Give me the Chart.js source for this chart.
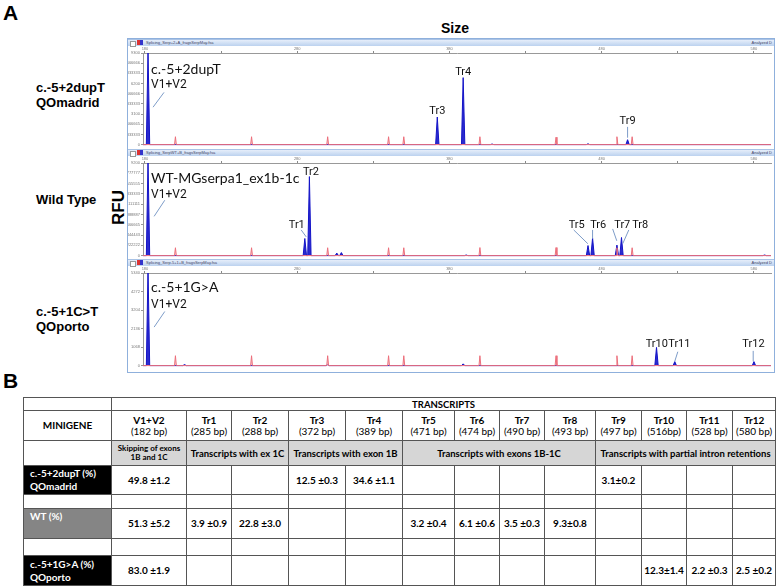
<!DOCTYPE html>
<html>
<head>
<meta charset="utf-8">
<script src="https://cdn.jsdelivr.net/npm/chart.js@4.4.1/dist/chart.umd.min.js"></script>
<style>
  body { margin: 0; width: 778px; height: 587px; background: #fff; position: relative; overflow: hidden; font-family: "Liberation Sans", Arial, sans-serif; }
  .abs { position: absolute; }
  .big { font-weight: bold; font-size: 21px; line-height: 21px; }
  .lab { font-weight: bold; font-size: 13px; line-height: 15px; white-space: nowrap; }
  #frame { left: 127px; top: 38px; width: 646px; height: 333px; border: 1px solid #8fb0dc; }
  .bar { left: 128px; width: 646px; height: 6px; background: linear-gradient(#e6eefa, #bcd2ef); border-top: 1px solid #a9c3e6; font-size: 4px; line-height: 6px; color: #446; }
  .bar .nm { position: absolute; left: 18px; top: 0; }
  .bar .an { position: absolute; right: 2px; top: 0; }
  .bar .ck { position: absolute; left: 2px; top: 1px; width: 4px; height: 4px; border: 1px solid #999; background: #fff; }
  .bar .ic { position: absolute; left: 9px; top: 0; width: 6px; height: 5px; background: linear-gradient(90deg, #d33 50%, #33c 50%); }
  canvas { position: absolute; left: 128px; }
  #tbl { position: absolute; left: 23px; top: 397px; border-collapse: collapse; table-layout: fixed; width: 752px; font-family: Lato, sans-serif; }
  #tbl td { border: 1px solid #555; padding: 0; text-align: center; vertical-align: middle; font-size: 10px; line-height: 11px; overflow: hidden; white-space: nowrap; }
  #tbl td.grp { background: #d6d6d6; font-weight: bold; }
  #tbl td.blk { background: #000; color: #fff; font-weight: bold; text-align: left; padding-left: 6px; line-height: 13px; }
  #tbl td.wt { background: #858585; color: #fff; font-weight: bold; text-align: left; vertical-align: top; padding-left: 6px; padding-top: 2px; }
  #tbl td.val { font-weight: bold; }
</style>
</head>
<body>
<div class="abs big" style="left:3px;top:2px;">A</div>
<div class="abs" style="left:441px;top:21px;font-weight:bold;font-size:14px;line-height:14px;">Size</div>
<div class="abs lab" style="left:36px;top:80px;">c.-5+2dupT<br>QOmadrid</div>
<div class="abs lab" style="left:36px;top:192px;">Wild Type</div>
<div class="abs lab" style="left:36px;top:304px;">c.-5+1C&gt;T<br>QOporto</div>
<div class="abs" style="left:99px;top:199px;width:38px;text-align:center;font-weight:bold;font-size:17px;line-height:17px;transform:rotate(-90deg);">RFU</div>

<div id="frame" class="abs"></div>
<div class="abs bar" style="top:39px;"><span class="ck"></span><span class="ic"></span><span class="nm">Splicing_Serp+2+A_fragsSerpMay.fsa</span><span class="an">Analyzed D</span></div>
<canvas id="p1" width="646" height="102" style="top:46px;"></canvas>
<div class="abs bar" style="top:149px;"><span class="ck"></span><span class="ic"></span><span class="nm">Splicing_SerpWT+B_fragsSerpMay.fsa</span><span class="an">Analyzed D</span></div>
<canvas id="p2" width="646" height="103" style="top:156px;"></canvas>
<div class="abs bar" style="top:259px;"><span class="ck"></span><span class="ic"></span><span class="nm">Splicing_Serp-5+1+B_fragsSerpMay.fsa</span><span class="an">Analyzed D</span></div>
<canvas id="p3" width="646" height="103" style="top:266px;"></canvas>

<div class="abs big" style="left:3px;top:370px;">B</div>
<table id="tbl"></table>

<script>
// ---- electropherogram data (size in bp, height in RFU) ----
const sizeTickLabels = [180, 280, 380, 480, 580];
const standardSizes = [200, 250, 300, 340, 350, 400, 450, 490, 500];
const standardDupT = [800, 800, 800, 800, 800, 800, 750, 800, 800];
const standardWT = [780, 780, 780, 780, 780, 800, 800, 780, 780];
const standardG1A = [570, 570, 570, 570, 570, 570, 570, 570, 570];

const dupTSizes = [182, 372, 389, 408, 471, 497];
const dupTHeights = [9600, 2800, 6800, 60, 80, 500];

const wtSizes = [182, 285, 288, 306, 309, 391, 471, 474, 490, 493, 587];
const wtHeights = [9600, 1700, 7850, 250, 300, 60, 1000, 1750, 1050, 1800, 60];

const g1aSizes = [182, 206, 300, 389, 516, 528, 580];
const g1aHeights = [5600, 60, 60, 100, 1050, 230, 230];

// ---- table data ----
const transcriptNames = ['V1+V2', 'Tr1', 'Tr2', 'Tr3', 'Tr4', 'Tr5', 'Tr6', 'Tr7', 'Tr8', 'Tr9', 'Tr10', 'Tr11', 'Tr12'];
const transcriptBp = ['(182 bp)', '(285 bp)', '(288 bp)', '(372 bp)', '(389 bp)', '(471 bp)', '(474 bp)', '(490 bp)', '(493 bp)', '(497 bp)', '(516bp)', '(528 bp)', '(580 bp)'];
const groupLabels = ['Skipping of exons<br>1B and 1C', 'Transcripts with ex 1C', 'Transcripts with exon 1B', 'Transcripts with exons 1B-1C', 'Transcripts with partial intron retentions'];
const groupSpans = [1, 2, 2, 4, 4];
const dupTValues = ['49.8 ±1.2', '', '', '12.5 ±0.3', '34.6 ±1.1', '', '', '', '', '3.1±0.2', '', '', ''];
const wtValues = ['51.3 ±5.2', '3.9 ±0.9', '22.8 ±3.0', '', '', '3.2 ±0.4', '6.1 ±0.6', '3.5 ±0.3', '9.3±0.8', '', '', '', ''];
const g1aValues = ['83.0 ±1.9', '', '', '', '', '', '', '', '', '', '12.3±1.4', '2.2 ±0.3', '2.5 ±0.2'];

const X_MIN = 178.7, X_MAX = 591.2;
const xTickValues = [];
sizeTickLabels.forEach((v, i) => { xTickValues.push(v); if (i < sizeTickLabels.length - 1) xTickValues.push(v + 50); });

function peakLine(sizes, heights, half) {
  const pts = [{ x: X_MIN, y: 0 }];
  sizes.forEach((s, i) => {
    pts.push({ x: s - half, y: 0 }, { x: s, y: heights[i] }, { x: s + half, y: 0 });
  });
  pts.push({ x: X_MAX, y: 0 });
  return pts;
}

function notesPlugin(notes) {
  return {
    id: 'notes',
    afterDatasetsDraw(chart) {
      const { ctx, scales: { x, y } } = chart;
      ctx.save();
      notes.forEach(n => {
        if (n.line) {
          ctx.strokeStyle = '#7d9cc8';
          ctx.lineWidth = 1;
          ctx.beginPath();
          ctx.moveTo(x.getPixelForValue(n.line[0]), y.getPixelForValue(n.line[1]));
          ctx.lineTo(x.getPixelForValue(n.line[2]), y.getPixelForValue(n.line[3]));
          ctx.stroke();
        } else {
          ctx.fillStyle = '#111';
          ctx.font = (n.size || 12) + 'px ' + (n.size >= 14 ? 'Lato' : 'Roboto');
          ctx.textAlign = n.align || 'center';
          ctx.textBaseline = 'alphabetic';
          ctx.fillText(n.text, x.getPixelForValue(n.x), y.getPixelForValue(n.y));
        }
      });
      ctx.restore();
    }
  };
}

function makePanel(id, sizes, heights, stdHeights, yMax, notes) {
  new Chart(document.getElementById(id), {
    type: 'line',
    data: {
      datasets: [
        { data: peakLine(standardSizes, stdHeights, 0.6), borderColor: '#ec6f7b', backgroundColor: 'rgba(248,180,188,0.6)', fill: 'origin', borderWidth: 1, pointRadius: 0, tension: 0, clip: { left: 0, top: 0, right: 0, bottom: 2 } },
        { data: peakLine(sizes, heights, 1.1), borderColor: '#1414c8', backgroundColor: 'rgba(20,20,200,0.9)', fill: 'origin', borderWidth: 1, pointRadius: 0, tension: 0, clip: { left: 0, top: 0, right: 0, bottom: 2 } }
      ]
    },
    options: {
      responsive: false,
      animation: false,
      events: [],
      layout: { padding: { left: 0, right: 3, top: 0, bottom: 2 } },
      plugins: { legend: { display: false }, tooltip: { enabled: false } },
      scales: {
        x: {
          type: 'linear', position: 'top', min: X_MIN, max: X_MAX,
          afterFit: s => { s.height = 7; },
          afterBuildTicks: s => { s.ticks = xTickValues.map(v => ({ value: v })); },
          ticks: { font: { size: 4 }, color: '#777', padding: 0, maxRotation: 0, autoSkip: false,
            callback: v => sizeTickLabels.includes(v) ? String(v) : '' },
          grid: { drawOnChartArea: false, tickLength: 2, color: '#888' },
          border: { color: '#999' }
        },
        y: {
          min: 0, max: yMax,
          afterFit: s => { s.width = 15; },
          ticks: { stepSize: 1000, includeBounds: false, font: { size: 4 }, color: '#777', padding: 1, autoSkip: false,
            callback: v => String(v) },
          grid: { drawOnChartArea: false, tickLength: 2, color: '#999' },
          border: { color: '#999' }
        }
      }
    },
    plugins: [notesPlugin(notes)]
  });
}

makePanel('p1', dupTSizes, dupTHeights, standardDupT, 9300, [
  { text: 'c.-5+2dupT', x: 184, y: 7200, size: 14, align: 'left' },
  { text: 'V1+V2', x: 184, y: 5700, size: 12, align: 'left' },
  { line: [192.5, 5300, 185.3, 3800] },
  { text: 'Tr3', x: 372, y: 3100, size: 11 },
  { text: 'Tr4', x: 389, y: 7100, size: 11 },
  { text: 'Tr9', x: 497, y: 2100, size: 11 },
  { line: [497, 1800, 497, 700] }
]);

makePanel('p2', wtSizes, wtHeights, standardWT, 9200, [
  { text: 'WT-MGserpa1_ex1b-1c', x: 184, y: 7250, size: 14, align: 'left' },
  { text: 'V1+V2', x: 184, y: 5680, size: 12, align: 'left' },
  { line: [193, 5500, 186, 3900] },
  { text: 'Tr2', x: 289, y: 8000, size: 11 },
  { text: 'Tr1', x: 279.7, y: 2750, size: 11 },
  { line: [282.6, 2550, 285.9, 1860] },
  { text: 'Tr5', x: 463.6, y: 2750, size: 11 },
  { text: 'Tr6', x: 477.7, y: 2750, size: 11 },
  { text: 'Tr7', x: 493.5, y: 2750, size: 11 },
  { text: 'Tr8', x: 505.3, y: 2750, size: 11 },
  { line: [461.6, 2550, 470.9, 1180] },
  { line: [474, 2550, 474, 1670] },
  { line: [487.2, 2650, 489.9, 1470] },
  { line: [497.8, 2550, 493.8, 1180] }
]);

makePanel('p3', g1aSizes, g1aHeights, standardG1A, 5340, [
  { text: 'c.-5+1G>A', x: 184, y: 4260, size: 14, align: 'left' },
  { text: 'V1+V2', x: 184, y: 3300, size: 12, align: 'left' },
  { line: [193, 3120, 186, 2220] },
  { text: 'Tr10', x: 516.2, y: 1080, size: 11 },
  { text: 'Tr11', x: 531, y: 1080, size: 11 },
  { text: 'Tr12', x: 579.7, y: 1080, size: 11 },
  { line: [530, 800, 528, 250] },
  { line: [579.5, 850, 579.5, 250] }
]);

// ---- table B ----
const colW = [88, 75, 45, 57, 57, 57, 52, 45, 45, 51, 46, 45, 46, 43];
const rowH = [13, 30, 25, 29, 14, 30, 17, 30];
const tbl = document.getElementById('tbl');
let html = '<colgroup>' + colW.map(w => '<col style="width:' + w + 'px">').join('') + '</colgroup>';
const tr = (h, cells) => '<tr style="height:' + h + 'px">' + cells + '</tr>';
const empty = n => Array(n).fill('<td></td>').join('');
html += tr(rowH[0], '<td></td><td colspan="13" style="font-weight:bold;font-size:9.5px;">TRANSCRIPTS</td>');
html += tr(rowH[1], '<td style="font-weight:bold;">MINIGENE</td>' +
  transcriptNames.map((n, i) => '<td><b>' + n + '</b><br>' + transcriptBp[i] + '</td>').join(''));
html += tr(rowH[2], '<td></td>' + groupLabels.map((g, i) =>
  '<td class="grp" colspan="' + groupSpans[i] + '"' + (i === 0 ? ' style="font-size:8px;line-height:9px;"' : ' style="font-size:9.5px;"') + '>' + g + '</td>').join(''));
html += tr(rowH[3], '<td class="blk">c.-5+2dupT (%)<br>QOmadrid</td>' + dupTValues.map(v => '<td class="val">' + v + '</td>').join(''));
html += tr(rowH[4], empty(14));
html += tr(rowH[5], '<td class="wt">WT (%)</td>' + wtValues.map(v => '<td class="val">' + v + '</td>').join(''));
html += tr(rowH[6], empty(14));
html += tr(rowH[7], '<td class="blk">c.-5+1G&gt;A (%)<br>QOporto</td>' + g1aValues.map(v => '<td class="val">' + v + '</td>').join(''));
tbl.innerHTML = html;
</script>
</body>
</html>
